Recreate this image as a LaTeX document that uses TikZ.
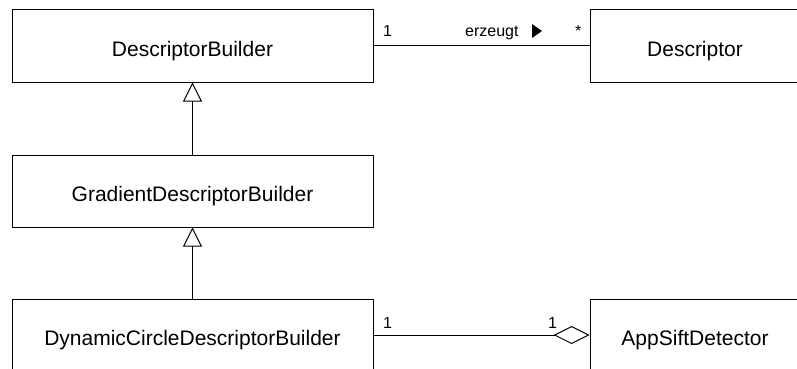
\documentclass[tikz,border=0pt]{standalone}
\usepackage{fontspec}
\setmainfont{Liberation Sans}
\usetikzlibrary{arrows.meta}
\tikzset{
  klasse/.style={
    draw, line width=1pt, minimum width=361pt, minimum height=72pt,
    inner sep=0pt, text height=21pt, text depth=0pt,
    font=\fontsize{21}{25}\selectfont
  },
  rolle/.style={anchor=base west, inner sep=0pt, font=\fontsize{16}{19}\selectfont},
  erbt/.style={-{Triangle[open, length=19pt, width=19pt]}, line width=1pt},
  teil/.style={-{Diamond[open, length=36pt, width=18pt]}, line width=1pt},
  assoz/.style={line width=1pt}
}

\begin{document}
\begin{tikzpicture}[x=1pt, y=-1pt]
  \path[use as bounding box] (0,0) rectangle (797,369);
  \clip (0,0) rectangle (797,369);

  % Klassen
  \node[klasse] (builder) at (192.5,46) {DescriptorBuilder};
  \node[klasse] (gradient) at (192.5,191) {GradientDescriptorBuilder};
  \node[klasse] (dynamic) at (192.5,335) {DynamicCircleDescriptorBuilder};
  \node[klasse, minimum width=210pt] (descriptor) at (695,46) {Descriptor};
  \node[klasse, minimum width=210pt] (detector) at (695,335) {AppSiftDetector};

  % Vererbung
  \draw[erbt] (gradient) -- (builder);
  \draw[erbt] (dynamic) -- (gradient);

  % Assoziation mit Leserichtung
  \draw[assoz] (builder.east) -- (descriptor.west);
  \node[rolle] (mulBuilder) at (383,37) {1};
  \node[rolle] (erzeugt) at (465,37) {erzeugt};
  \node[rolle] (mulDescriptor) at (575,37) {*};
  \fill (532,24) -- (542,31) -- (532,38) -- cycle;

  % Aggregation
  \draw[teil] (dynamic.east) -- (detector.west);
  \node[rolle] (mulDynamic) at (383,328) {1};
  \node[rolle] (mulDetector) at (548,328) {1};
\end{tikzpicture}
\end{document}
